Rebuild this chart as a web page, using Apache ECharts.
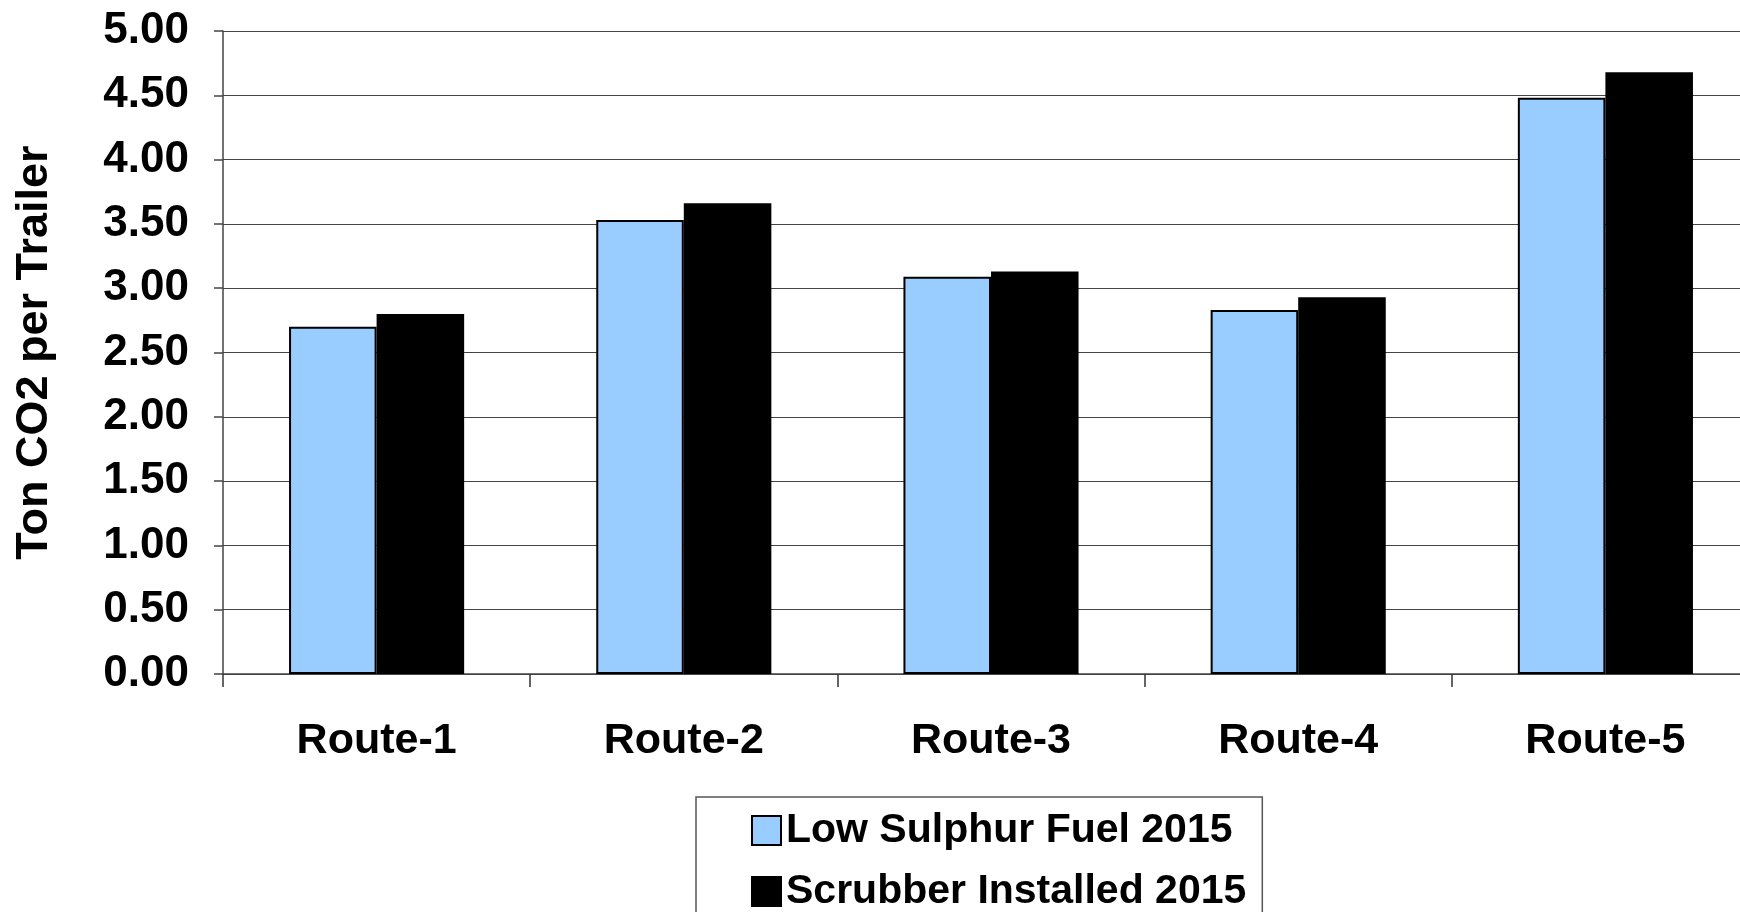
<!DOCTYPE html>
<html>
<head>
<meta charset="utf-8">
<script src="https://cdn.jsdelivr.net/npm/echarts@6/dist/echarts.min.js"></script>
<style>
  html, body { margin: 0; padding: 0; background: #fff; }
  #chart { width: 1740px; height: 912px; }
</style>
</head>
<body>
<div id="chart"></div>
<script>
// routes and CO2 per trailer
var routes = ['Route-1', 'Route-2', 'Route-3', 'Route-4', 'Route-5'];
var lowSulphur = [2.70, 3.53, 3.09, 2.83, 4.48];
var scrubber = [2.80, 3.66, 3.13, 2.93, 4.68];
var seriesNames = ['Low Sulphur Fuel 2015', 'Scrubber Installed 2015'];

var font = 'Liberation Sans, Arial, Helvetica, sans-serif';
var chart = echarts.init(document.getElementById('chart'));

var option = {
    animation: false,
    backgroundColor: '#fff',
    grid: {
        left: 223,
        top: 31,
        width: 1536,
        bottom: 238,
        outerBoundsMode: 'none'
    },
    legend: {
        orient: 'vertical',
        left: 696,
        top: 797,
        height: 200,
        padding: [13, 16, 13, 55],
        itemGap: 20,
        itemWidth: 29,
        itemHeight: 29,
        icon: 'rect',
        borderColor: '#555',
        borderWidth: 1.5,
        textStyle: {
            fontFamily: font,
            fontWeight: 'bold',
            fontSize: 41,
            lineHeight: 40,
            color: '#000'
        },
        data: seriesNames
    },
    xAxis: {
        type: 'category',
        data: routes,
        axisLine: { lineStyle: { color: '#444', width: 1.5 } },
        axisTick: { show: true, length: 13, lineStyle: { color: '#333', width: 1.5 } },
        axisLabel: {
            margin: 46,
            fontFamily: font,
            fontWeight: 'bold',
            fontSize: 43,
            color: '#000'
        }
    },
    yAxis: {
        type: 'value',
        min: 0,
        max: 5,
        interval: 0.5,
        name: 'Ton CO2 per Trailer',
        nameLocation: 'middle',
        nameRotate: 90,
        nameGap: 166,
        nameTextStyle: {
            fontFamily: font,
            fontWeight: 'bold',
            fontSize: 45,
            color: '#000'
        },
        axisLine: { show: true, lineStyle: { color: '#444', width: 1.5 } },
        axisTick: { show: true, length: 9, lineStyle: { color: '#444', width: 1.5 } },
        splitLine: { lineStyle: { color: '#444', width: 1.2 } },
        axisLabel: {
            margin: 34,
            fontFamily: font,
            fontWeight: 'bold',
            fontSize: 44,
            color: '#000',
            formatter: function (v) { return v.toFixed(2); }
        }
    },
    series: [
        {
            name: seriesNames[0],
            type: 'bar',
            data: lowSulphur,
            barGap: '0%',
            barCategoryGap: '43%',
            itemStyle: { color: '#99CCFF', borderColor: '#000', borderWidth: 2 }
        },
        {
            name: seriesNames[1],
            type: 'bar',
            data: scrubber,
            itemStyle: { color: '#000', borderColor: '#000', borderWidth: 2 }
        }
    ]
};
chart.setOption(option);
</script>
</body>
</html>
